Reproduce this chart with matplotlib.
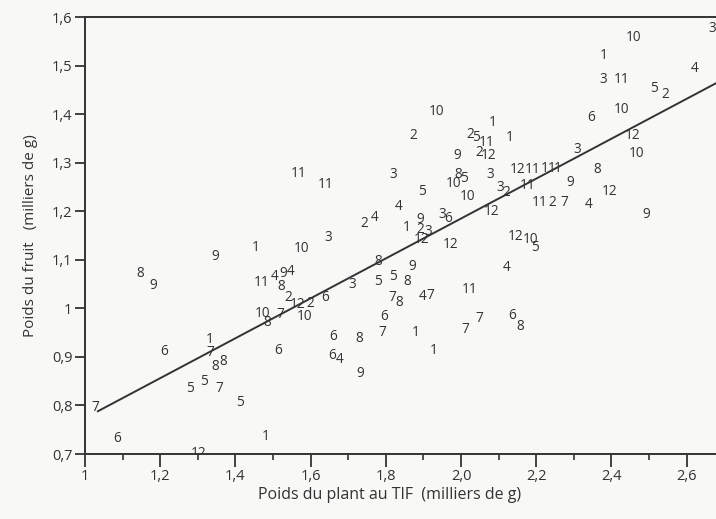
import matplotlib
matplotlib.use("Agg")
import matplotlib.pyplot as plt
from matplotlib.ticker import MultipleLocator, FixedLocator

# ---- data (month labels placed at plant weight / fruit weight) ----
labels = ["3", "10", "1", "3", "11", "4", "5", "2", "10", "6",
          "12", "10", "3", "8", "9", "12", "4", "9", "11", "2",
          "7", "12", "11", "11", "1", "11", "3", "3", "2", "1",
          "1", "2", "5", "11", "2", "12", "9", "10", "2", "3",
          "8", "5", "10", "10", "5", "4", "12", "3", "6", "9",
          "1", "2", "3", "12", "12", "12", "10", "5", "4", "9",
          "5", "8", "5", "11", "4", "7", "7", "8", "6", "7",
          "1", "1", "7", "7", "6", "8", "11", "11", "2", "4",
          "3", "10", "1", "9", "8", "9", "8", "11", "4", "9",
          "4", "8", "2", "12", "2", "6", "3", "10", "8", "7",
          "10", "1", "7", "8", "8", "6", "6", "8", "6", "4",
          "9", "6", "5", "5", "7", "5", "7", "6", "1", "12"]

plant_weight = [2.668, 2.460, 2.378, 2.378, 2.428, 2.622, 2.513, 2.543, 2.428, 2.346,
                2.457, 2.468, 2.309, 2.362, 2.290, 2.396, 2.340, 2.492, 2.210, 2.242,
                2.274, 2.149, 2.189, 2.232, 2.256, 2.176, 2.077, 2.104, 2.120, 2.085,
                2.128, 2.024, 2.040, 2.069, 2.048, 2.072, 1.989, 1.936, 1.872, 1.819,
                1.992, 2.008, 1.979, 2.016, 1.896, 1.835, 2.080, 1.949, 1.965, 1.891,
                1.856, 1.891, 1.912, 1.896, 1.971, 2.144, 2.184, 2.197, 2.122, 1.870,
                1.819, 1.856, 1.779, 2.024, 1.899, 1.918, 1.816, 1.835, 1.795, 1.790,
                1.880, 1.928, 2.011, 2.048, 2.136, 2.157, 1.569, 1.641, 1.742, 1.769,
                1.646, 1.577, 1.455, 1.346, 1.146, 1.181, 1.779, 1.471, 1.503, 1.527,
                1.548, 1.521, 1.540, 1.566, 1.598, 1.638, 1.710, 1.471, 1.484, 1.519,
                1.585, 1.332, 1.332, 1.346, 1.367, 1.513, 1.660, 1.729, 1.657, 1.676,
                1.731, 1.210, 1.279, 1.316, 1.356, 1.412, 1.027, 1.085, 1.481, 1.303]

fruit_weight = [1.577, 1.557, 1.520, 1.472, 1.472, 1.493, 1.452, 1.440, 1.409, 1.394,
                1.357, 1.318, 1.328, 1.285, 1.260, 1.240, 1.213, 1.193, 1.217, 1.217,
                1.217, 1.287, 1.285, 1.289, 1.289, 1.254, 1.275, 1.248, 1.238, 1.382,
                1.351, 1.359, 1.351, 1.341, 1.322, 1.314, 1.314, 1.405, 1.357, 1.275,
                1.275, 1.267, 1.258, 1.230, 1.240, 1.209, 1.199, 1.193, 1.186, 1.182,
                1.166, 1.162, 1.158, 1.141, 1.131, 1.147, 1.141, 1.125, 1.084, 1.086,
                1.065, 1.055, 1.055, 1.038, 1.024, 1.026, 1.022, 1.012, 0.983, 0.950,
                0.950, 0.913, 0.956, 0.979, 0.985, 0.962, 1.277, 1.256, 1.174, 1.188,
                1.145, 1.123, 1.125, 1.106, 1.071, 1.047, 1.096, 1.053, 1.065, 1.071,
                1.075, 1.044, 1.022, 1.007, 1.011, 1.022, 1.049, 0.989, 0.970, 0.987,
                0.983, 0.935, 0.909, 0.880, 0.890, 0.913, 0.942, 0.937, 0.902, 0.894,
                0.865, 0.911, 0.835, 0.849, 0.835, 0.806, 0.795, 0.732, 0.736, 0.701]

# regression line
reg_intercept = 0.363
reg_slope = 0.411
reg_x_range = [1.032, 2.70]

x_ticks = [1.0, 1.2, 1.4, 1.6, 1.8, 2.0, 2.2, 2.4, 2.6]
x_ticklabels = ["1", "1,2", "1,4", "1,6", "1,8", "2,0", "2,2", "2,4", "2,6"]
y_ticks = [0.7, 0.8, 0.9, 1.0, 1.1, 1.2, 1.3, 1.4, 1.5, 1.6]
y_ticklabels = ["0,7", "0,8", "0,9", "1", "1,1", "1,2", "1,3", "1,4", "1,5", "1,6"]

ink = "#333333"
bg = "#f8f8f6"

plt.rcParams['font.family'] = ['Open Sans', 'DejaVu Sans']

fig = plt.figure(figsize=(7.16, 5.19), dpi=100, facecolor=bg)
ax = fig.add_axes([0.1187, 0.1252, 0.8813, 0.842])
ax.set_facecolor(bg)
ax.set_xlim(1.0, 2.678)
ax.set_ylim(0.7, 1.6)

for lab, xv, yv in zip(labels, plant_weight, fruit_weight):
    ax.text(xv, yv, lab, ha="center", va="center", fontsize=9.8, color=ink,
            clip_on=True)

xs = reg_x_range
ys = [reg_intercept + reg_slope * v for v in xs]
ax.plot(xs, ys, color=ink, lw=1.4, solid_capstyle="butt")

for s in ["left", "bottom", "top"]:
    ax.spines[s].set_color(ink)
    ax.spines[s].set_linewidth(1.4)
ax.spines["right"].set_visible(False)

ax.xaxis.set_major_locator(FixedLocator(x_ticks))
ax.set_xticklabels(x_ticklabels)
ax.xaxis.set_minor_locator(MultipleLocator(0.1))
ax.set_yticks(y_ticks)
ax.set_yticklabels(y_ticklabels)
ax.tick_params(axis="x", which="major", direction="out", length=9, width=1.3,
               color=ink, labelsize=10.5, labelcolor=ink, pad=2)
ax.tick_params(axis="x", which="minor", direction="out", length=4, width=1.2, color=ink)
ax.tick_params(axis="y", which="major", direction="out", length=7, width=1.3,
               color=ink, labelsize=10.5, labelcolor=ink, pad=2)

ax.set_xlabel("Poids du plant au TIF  (milliers de g)", fontsize=11.5, color=ink, labelpad=3)
ax.xaxis.set_label_coords(0.482, -0.075)
ax.set_ylabel("Poids du fruit   (milliers de g)", fontsize=11, color=ink, labelpad=10)

fig.savefig("out.png", dpi=100, facecolor=bg)
